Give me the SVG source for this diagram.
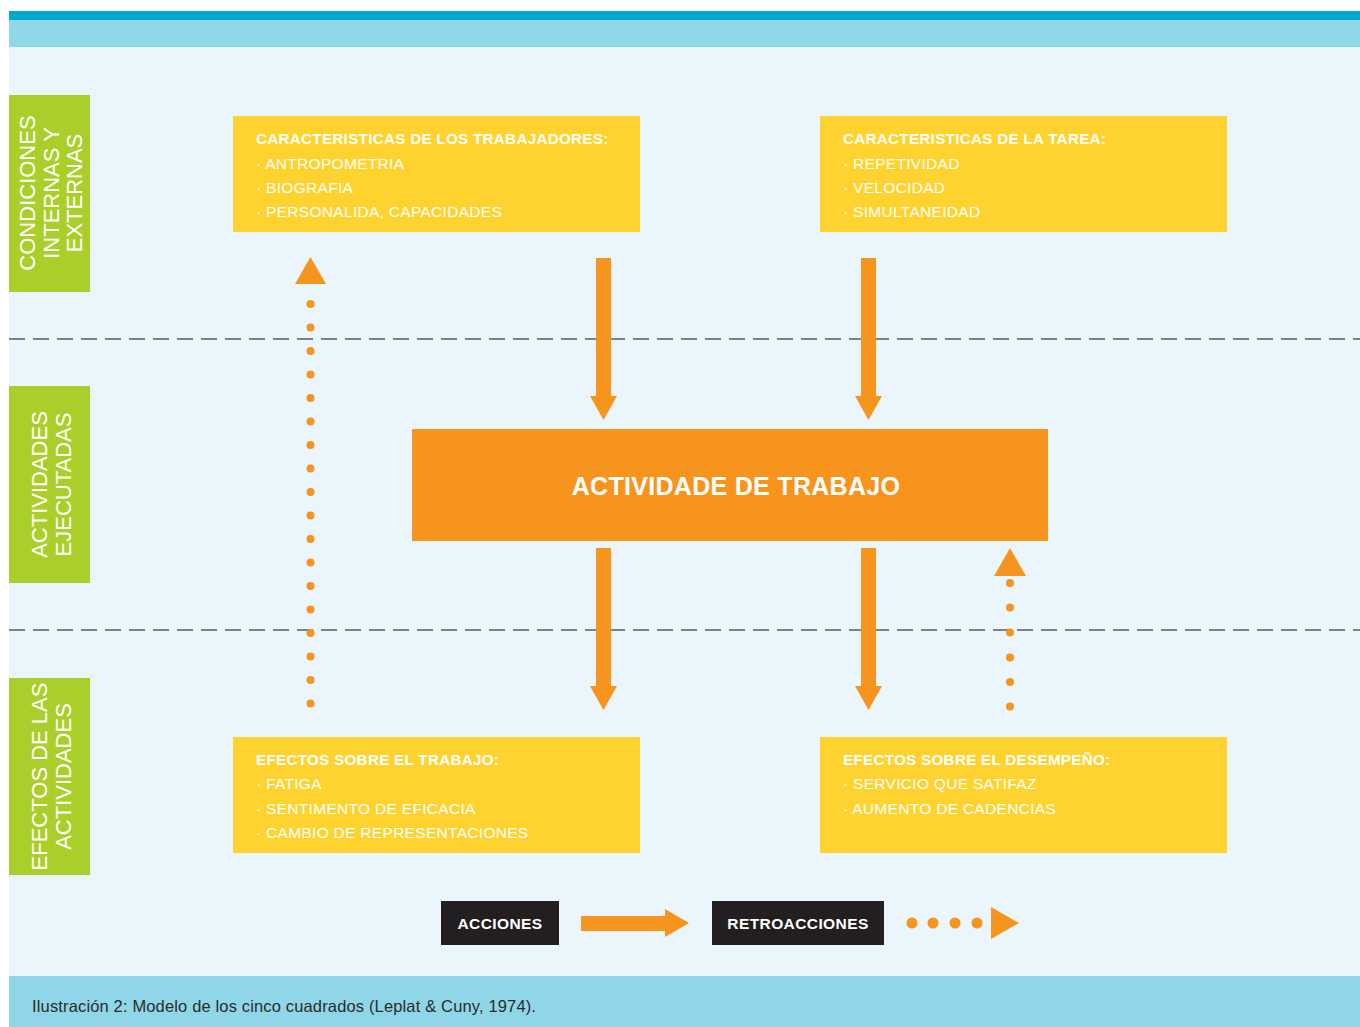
<svg xmlns="http://www.w3.org/2000/svg" width="1360" height="1027" viewBox="0 0 1360 1027">
<defs>
<style>
.bg{fill:#EAF6FB}
.green{fill:#ABCF2A}
.yellow{fill:#FED330}
.orange{fill:#F7941D}
.dark{fill:#231F20}
.vt{font-family:"Liberation Sans",Arial,sans-serif;font-size:22px;fill:#FFFFFF;text-anchor:middle}
.yt{font-family:"Liberation Sans",Arial,sans-serif;font-size:15.5px;fill:#FFFFFF;letter-spacing:0.3px}
.yt .b{font-weight:bold;font-size:15.2px}
.main{font-family:"Liberation Sans",Arial,sans-serif;font-size:25px;font-weight:bold;fill:#FFFFFF;text-anchor:middle;letter-spacing:0.3px}
.leg{font-family:"Liberation Sans",Arial,sans-serif;font-size:15.5px;font-weight:bold;fill:#FFFFFF;text-anchor:middle;letter-spacing:0.4px}
.cap{font-family:"Liberation Sans",Arial,sans-serif;font-size:16.5px;fill:#2B2B2B;letter-spacing:0.15px}
.dash{stroke:#7F8183;stroke-width:2;stroke-dasharray:16 8;fill:none}
</style>
</defs>
<rect x="0" y="0" width="1360" height="1027" fill="#FFFFFF"/>
<rect x="9" y="11" width="1351" height="9" fill="#00AACF"/>
<rect x="9" y="20" width="1351" height="27" fill="#91D7EA"/>
<rect class="bg" x="9" y="47" width="1351" height="929"/>
<rect x="9" y="976" width="1351" height="51" fill="#8FD6E8"/>

<g id="separators">
<line class="dash" x1="9" y1="339" x2="1360" y2="339"/>
<line class="dash" x1="9" y1="630" x2="1360" y2="630"/>
</g>

<g id="label-condiciones">
<rect class="green" x="9" y="95" width="81" height="197"/>
<text class="vt" transform="translate(35,193) rotate(-90)">CONDICIONES</text>
<text class="vt" transform="translate(59,193) rotate(-90)">INTERNAS Y</text>
<text class="vt" transform="translate(82,193) rotate(-90)">EXTERNAS</text>
</g>
<g id="label-actividades">
<rect class="green" x="9" y="386" width="81" height="197"/>
<text class="vt" transform="translate(47,484.5) rotate(-90)">ACTIVIDADES</text>
<text class="vt" transform="translate(71,484.5) rotate(-90)">EJECUTADAS</text>
</g>
<g id="label-efectos">
<rect class="green" x="9" y="678" width="81" height="197"/>
<text class="vt" transform="translate(47,776.5) rotate(-90)">EFECTOS DE LAS</text>
<text class="vt" transform="translate(71,776.5) rotate(-90)">ACTIVIDADES</text>
</g>

<g id="box-trabajadores">
<rect class="yellow" x="233" y="116" width="407" height="116"/>
<text class="yt"><tspan class="b" x="256" y="144">CARACTERISTICAS DE LOS TRABAJADORES:</tspan><tspan x="256" y="169">· ANTROPOMETRIA</tspan><tspan x="256" y="193">· BIOGRAFIA</tspan><tspan x="256" y="217">· PERSONALIDA, CAPACIDADES</tspan></text>
</g>
<g id="box-tarea">
<rect class="yellow" x="820" y="116" width="407" height="116"/>
<text class="yt"><tspan class="b" x="843" y="144">CARACTERISTICAS DE LA TAREA:</tspan><tspan x="843" y="169">· REPETIVIDAD</tspan><tspan x="843" y="193">· VELOCIDAD</tspan><tspan x="843" y="217">· SIMULTANEIDAD</tspan></text>
</g>
<g id="box-actividad">
<rect class="orange" x="412" y="429" width="636" height="112"/>
<text class="main" x="736" y="495">ACTIVIDADE DE TRABAJO</text>
</g>
<g id="box-efectos-trabajo">
<rect class="yellow" x="233" y="737" width="407" height="116"/>
<text class="yt"><tspan class="b" x="256" y="765">EFECTOS SOBRE EL TRABAJO:</tspan><tspan x="256" y="789">· FATIGA</tspan><tspan x="256" y="814">· SENTIMENTO DE EFICACIA</tspan><tspan x="256" y="838">· CAMBIO DE REPRESENTACIONES</tspan></text>
</g>
<g id="box-efectos-desempeno">
<rect class="yellow" x="820" y="737" width="407" height="116"/>
<text class="yt"><tspan class="b" x="843" y="765">EFECTOS SOBRE EL DESEMPEÑO:</tspan><tspan x="843" y="789">· SERVICIO QUE SATIFAZ</tspan><tspan x="843" y="814">· AUMENTO DE CADENCIAS</tspan></text>
</g>

<g id="connectors">
<g class="orange">
<rect x="596" y="258" width="15" height="139"/>
<polygon points="590,396 617,396 603.5,420"/>
<rect x="861" y="258" width="15" height="139"/>
<polygon points="855,396 882,396 868.5,420"/>
<rect x="596" y="548" width="15" height="139"/>
<polygon points="590,686 617,686 603.5,710"/>
<rect x="861" y="548" width="15" height="139"/>
<polygon points="855,686 882,686 868.5,710"/>
<polygon points="295,284 326,284 310.5,257"/>
<circle cx="310.5" cy="304" r="4"/><circle cx="310.5" cy="327.5" r="4"/><circle cx="310.5" cy="351" r="4"/><circle cx="310.5" cy="374.5" r="4"/><circle cx="310.5" cy="398" r="4"/><circle cx="310.5" cy="421.5" r="4"/><circle cx="310.5" cy="445" r="4"/><circle cx="310.5" cy="468.5" r="4"/><circle cx="310.5" cy="492" r="4"/><circle cx="310.5" cy="515.5" r="4"/><circle cx="310.5" cy="539" r="4"/><circle cx="310.5" cy="562.5" r="4"/><circle cx="310.5" cy="586" r="4"/><circle cx="310.5" cy="609.5" r="4"/><circle cx="310.5" cy="633" r="4"/><circle cx="310.5" cy="656.5" r="4"/><circle cx="310.5" cy="680" r="4"/><circle cx="310.5" cy="703.5" r="4"/>
<polygon points="994,576 1026,576 1010,548"/>
<circle cx="1010" cy="583" r="4"/><circle cx="1010" cy="607.5" r="4"/><circle cx="1010" cy="632.5" r="4"/><circle cx="1010" cy="657.5" r="4"/><circle cx="1010" cy="682" r="4"/><circle cx="1010" cy="706.5" r="4"/>
</g>
</g>

<g id="legend-acciones">
<rect class="dark" x="441" y="901" width="118" height="44"/>
<text class="leg" x="500" y="929">ACCIONES</text>
</g>
<g id="legend-acciones-arrow" class="orange">
<rect x="581" y="916" width="85" height="15"/>
<polygon points="665,909 689,923 665,937"/>
</g>
<g id="legend-retroacciones">
<rect class="dark" x="712" y="901" width="172" height="44"/>
<text class="leg" x="798" y="929">RETROACCIONES</text>
</g>
<g id="legend-retro-arrow" class="orange">
<circle cx="912" cy="923" r="5.5"/><circle cx="933" cy="923" r="5.5"/><circle cx="955" cy="923" r="5.5"/><circle cx="977" cy="923" r="5.5"/>
<polygon points="991,907 1019,923 991,939"/>
</g>

<g id="caption">
<text class="cap" x="32" y="1012">Ilustración 2: Modelo de los cinco cuadrados (Leplat &amp; Cuny, 1974).</text>
</g>
</svg>
